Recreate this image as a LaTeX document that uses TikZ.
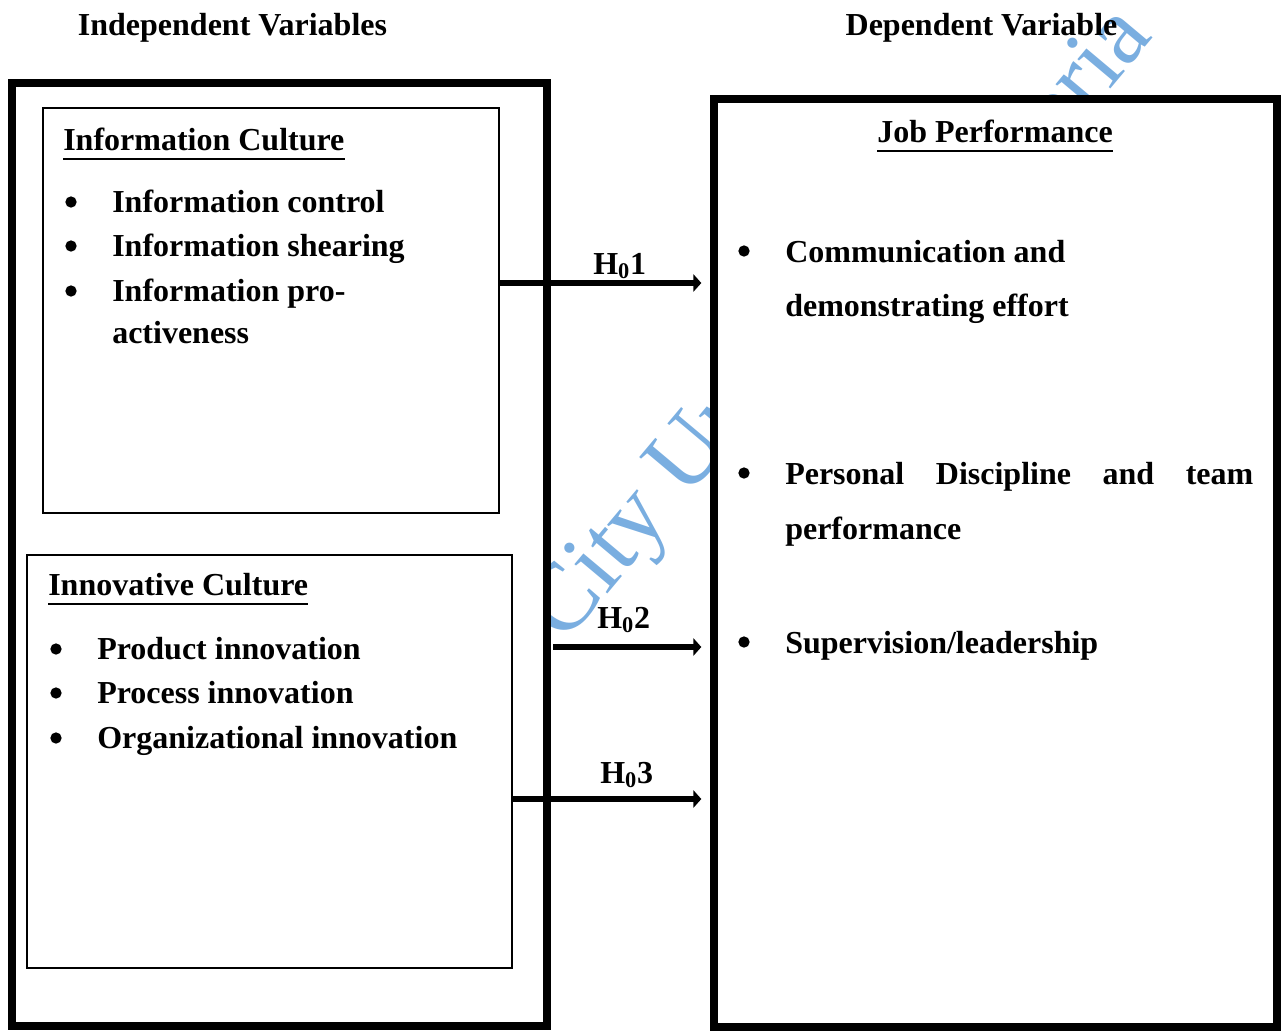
\documentclass[tikz,border=0pt]{standalone}
\usepackage{fontspec}
\setmainfont{Liberation Serif}
\usetikzlibrary{arrows.meta}
\definecolor{wm}{RGB}{122,174,224}
\begin{document}
\begin{tikzpicture}[x=0.75pt,y=-0.75pt,
  txt/.style={font=\fontsize{24}{28}\selectfont\bfseries, inner sep=0pt, anchor=base west},
  ttl/.style={font=\fontsize{24}{28}\selectfont\bfseries, inner sep=0pt, anchor=base},
  bul/.style={circle, fill=black, inner sep=0pt, minimum size=8.5pt},
  wmk/.style={rotate=50, text=wm, font=\fontsize{72}{76}\selectfont, inner sep=0pt},
  bigbox/.style={draw, line width=5.5pt, fill=white, inner sep=0pt},
  smallbox/.style={draw, line width=1.5pt, fill=white, inner sep=0pt},
  hyp/.style={line width=4.5pt, -{Triangle[length=6pt,width=13pt]}},
  uline/.style={line width=1.5pt},
  ]
\useasboundingbox (0,0) rectangle (1281,1032);
% watermark (behind the boxes)
\node[wmk, anchor=base west] (wm1) at (426,810) {Lead City University};
\node[wmk, anchor=base east] (wm2) at (1154,37) {Nigeria};
% titles
\node[ttl] (tiv) at (232.5,35) {Independent Variables};
\node[ttl] (tdv) at (981.5,35) {Dependent Variable};
% boxes
\node[bigbox, minimum width=401.25pt, minimum height=707.25pt] (left) at (279.5,554.5) {};
\node[bigbox, minimum width=422.25pt, minimum height=696pt] (jp) at (995.5,563) {};
\node[smallbox, minimum width=342pt, minimum height=303.75pt] (ic) at (271,310.5) {};
\node[smallbox, minimum width=363.75pt, minimum height=309.75pt] (inn) at (269.5,761.5) {};
% Information culture
\node[txt] (icT) at (63,150) {Information Culture};
\draw[uline] ([yshift=-6.5pt]icT.base west) -- ([yshift=-6.5pt]icT.base east);
\node[bul] (b1) at (71,202) {};
\node[txt] (i1) at (112,212) {Information control};
\node[bul] (b2) at (71,246) {};
\node[txt] (i2) at (112,256) {Information shearing};
\node[bul] (b3) at (71,291) {};
\node[txt] (i3) at (112,301) {Information pro-};
\node[txt] (i4) at (112,343) {activeness};
% Innovative culture
\node[txt] (innT) at (48,595) {Innovative Culture};
\draw[uline] ([yshift=-6.5pt]innT.base west) -- ([yshift=-6.5pt]innT.base east);
\node[bul] (b4) at (56,649) {};
\node[txt] (n1) at (97,659) {Product innovation};
\node[bul] (b5) at (56,693) {};
\node[txt] (n2) at (97,703) {Process innovation};
\node[bul] (b6) at (56,738) {};
\node[txt] (n3) at (97,748) {Organizational innovation};
% Job performance
\node[ttl] (jpT) at (995,142) {Job Performance};
\draw[uline] ([yshift=-6.5pt]jpT.base west) -- ([yshift=-6.5pt]jpT.base east);
\node[bul] (b7) at (744,251) {};
\node[txt] (r1) at (785,262) {Communication and};
\node[txt] (r2) at (785,316) {demonstrating effort};
\node[bul] (b8) at (744,473) {};
\node[txt] (r3) at (785,484) {\makebox[351pt][s]{Personal Discipline and team}};
\node[txt] (r4) at (785,539) {performance};
\node[bul] (b9) at (744,642) {};
\node[txt] (r5) at (785,653) {Supervision/leadership};
% hypotheses
\draw[hyp, shorten >=6.75pt] (ic.east |- 0,283) -- (jp.west |- 0,283);
\draw[hyp, shorten <=2pt, shorten >=6.75pt] (left.east |- 0,647) -- (jp.west |- 0,647);
\draw[hyp, shorten >=6.75pt] (inn.east |- 0,799) -- (jp.west |- 0,799);
\node[txt] (h1) at (593,274) {H\textsubscript{0}1};
\node[txt] (h2) at (597,628) {H\textsubscript{0}2};
\node[txt] (h3) at (600,783) {H\textsubscript{0}3};
\end{tikzpicture}
\end{document}
